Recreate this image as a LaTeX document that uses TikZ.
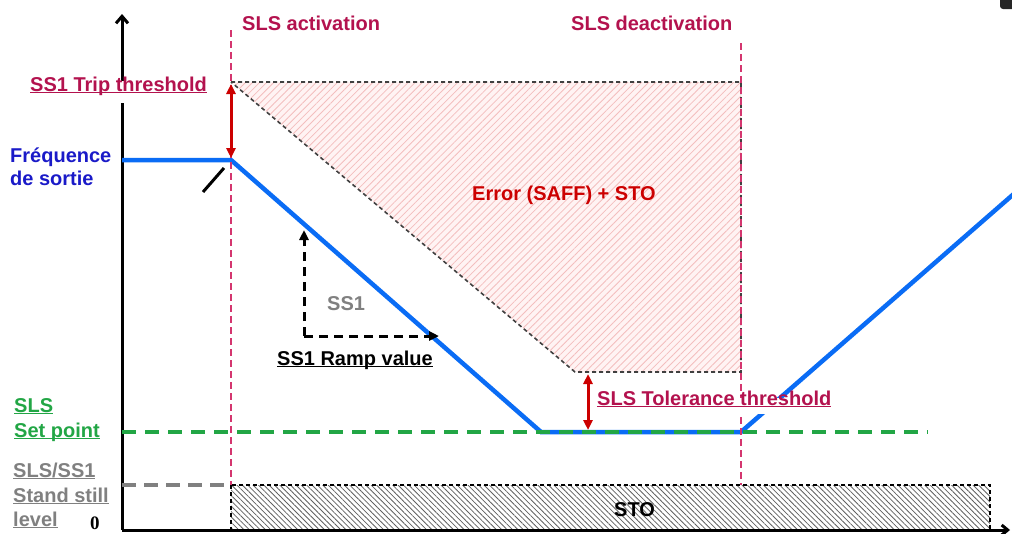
\documentclass[tikz,border=0pt]{standalone}
\usepackage{fontspec}
\setmainfont{Liberation Sans}
\newfontfamily\serifzero{Liberation Serif}
\usetikzlibrary{patterns.meta,arrows.meta}
\definecolor{crim}{HTML}{B3124E}
\definecolor{vline}{HTML}{D4366F}
\definecolor{blueline}{HTML}{0A6CF5}
\definecolor{bluetxt}{HTML}{1A1AC8}
\definecolor{greenc}{HTML}{22A645}
\definecolor{redarrow}{HTML}{CC0000}
\definecolor{grayc}{HTML}{808080}
\definecolor{pinkbg}{HTML}{FFF3F3}
\definecolor{pinkln}{HTML}{F3BEBE}
\newcommand\ulx[1]{\underline{\smash{#1}}}
\begin{document}
\begin{tikzpicture}[x=1pt,y=-1pt,
  txt/.style={font=\bfseries\fontsize{20}{24}\selectfont, inner sep=0pt, anchor=base west},
  axis/.style={line width=3pt, black},
  vdash/.style={line width=2.6pt, vline, dash pattern=on 7pt off 4pt},
  thindash/.style={line width=1.6pt, black!75, dash pattern=on 4pt off 3pt},
  curve/.style={line width=4.5pt, blueline},
  greendash/.style={line width=3.2pt, greenc, dash pattern=on 14pt off 9pt},
  graydash/.style={line width=3.2pt, grayc, dash pattern=on 14pt off 8pt},
  redarr/.style={line width=3pt, redarrow, {Triangle[length=10pt,width=9pt]}-{Triangle[length=10pt,width=9pt]}},
  ss1arr/.style={line width=3pt, black, dash pattern=on 9pt off 6pt, -{Triangle[length=10pt,width=9pt]}},
  whitebox/.style={fill=white, inner xsep=2pt}
]
\useasboundingbox (0,0) rectangle (1012,533);

% key coordinates
\coordinate (O) at (122,530);
\coordinate (Ytop) at (122,14);
\coordinate (Xend) at (1010,530);
\coordinate (A1) at (231,82);
\coordinate (A2) at (741,82);
\coordinate (A3) at (741,372);
\coordinate (A4) at (575,372);
\coordinate (S1) at (231,485);
\coordinate (S2) at (990,530);
\coordinate (B0) at (122,160);
\coordinate (B1) at (231,160);
\coordinate (B2) at (541,432);
\coordinate (B3) at (741,432);
\coordinate (B4) at (1016,192);
\coordinate (Vact0) at (231,30);
\coordinate (Vact1) at (231,485);
\coordinate (Vde0) at (741,43);
\coordinate (Vde1) at (741,485);
\coordinate (G0) at (122,432);
\coordinate (G1) at (928,432);
\coordinate (H0) at (122,485);
\coordinate (T0) at (231,84);
\coordinate (T1) at (231,158);
\coordinate (U0) at (588,374);
\coordinate (U1) at (588,430);
\coordinate (R0) at (304,336);
\coordinate (R1) at (304,230);
\coordinate (R2) at (439,336);
\coordinate (K0) at (203,192);
\coordinate (K1) at (224,168);

% error region
\fill[pinkbg] (A1) -- (A2) -- (A3) -- (A4) -- cycle;
\path[pattern={Lines[angle=45,distance=5pt,line width=0.8pt]}, pattern color=pinkln] (A1) -- (A2) -- (A3) -- (A4) -- cycle;
\draw[thindash] (A1) -- (A2) -- (A3) -- (A4) -- cycle;

% STO box
\fill[white] (S1) rectangle (S2);
\path[pattern={Lines[angle=-45,distance=3.8pt,line width=0.8pt]}, pattern color=black!62] (S1) rectangle (S2);
\draw[thindash, black] (S1) rectangle (S2);

% axes
\draw[axis, -{Straight Barb[length=7pt,width=12pt]}] (O) -- (Ytop);
\draw[axis, -{Straight Barb[length=6pt,width=10pt]}] (O) -- (Xend);

% curve
\draw[curve] (B0) -- (B1) -- (B2) -- (B3) -- (B4);
\draw[greendash] (G0) -- (G1);
\draw[graydash] (H0) -- (S1);

% vertical markers
\draw[vdash] (Vact0) -- (Vact1);
\draw[vdash] (Vde0) -- (Vde1);

% arrows
\draw[redarr] (T0) -- (T1);
\draw[redarr] (U0) -- (U1);
\draw[ss1arr] (R0) -- (R1);
\draw[ss1arr] (R0) -- (R2);
\draw[line width=3pt, black] (K0) -- (K1);

% labels
\node[txt, text=crim] (act) at (242,30) {SLS activation};
\node[txt, text=crim] (deact) at (571,30) {SLS deactivation};
\node[txt, text=crim, whitebox, inner ysep=10pt] (trip) at (28,91) {\ulx{SS1 Trip threshold}};
\node[txt, text=bluetxt] (freqA) at (10,162) {Fréquence};
\node[txt, text=bluetxt] (freqB) at (10,185) {de sortie};
\node[txt, text=greenc] (slsA) at (14,412) {\ulx{SLS}};
\node[txt, text=greenc] (slsB) at (14,437) {\ulx{Set point}};
\node[txt, text=grayc] (ssA) at (13,477) {\ulx{SLS/SS1}};
\node[txt, text=grayc] (ssB) at (13,502) {\ulx{Stand still}};
\node[txt, text=grayc] (ssC) at (13,526) {\ulx{level}};
\node[txt, font=\serifzero\bfseries\fontsize{19}{24}\selectfont] (zero) at (90,529) {0};
\node[txt, text=redarrow] (err) at (472,200) {Error (SAFF) + STO};
\node[txt, text=grayc] (ss1) at (327,310) {SS1};
\node[txt] (ramp) at (277,365) {\ulx{SS1 Ramp value}};
\node[txt, text=crim, whitebox, inner ysep=7pt] (tol) at (595,405) {\ulx{SLS Tolerance threshold}};
\node[txt] (sto) at (614,516) {STO};

% cropped corner object
\fill[black!85, rounded corners=3pt] (1000,-4) rectangle (1016,9);
\end{tikzpicture}
\end{document}
